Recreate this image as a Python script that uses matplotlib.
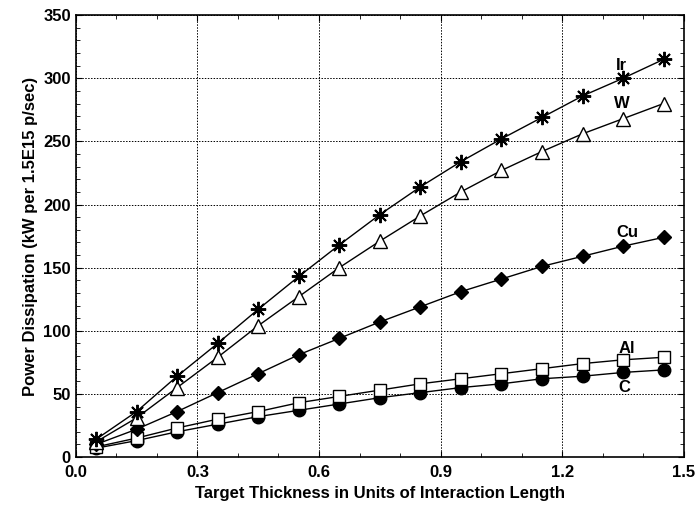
import matplotlib
matplotlib.use("Agg")
import matplotlib.pyplot as plt
from matplotlib.ticker import MultipleLocator

plt.rcParams['font.family'] = ['Liberation Sans', 'DejaVu Sans']
plt.rcParams['font.weight'] = 'bold'
plt.rcParams['axes.labelweight'] = 'bold'

thickness = [0.05, 0.15, 0.25, 0.35, 0.45, 0.55, 0.65, 0.75,
             0.85, 0.95, 1.05, 1.15, 1.25, 1.35, 1.45]

power_ir = [14, 36, 64, 90, 117, 143, 168, 192, 214, 234, 252, 269, 286, 300, 315]
power_w = [12, 31, 55, 79, 104, 127, 150, 171, 191, 210, 227, 242, 256, 268, 280]
power_cu = [10, 22, 36, 51, 66, 81, 94, 107, 119, 131, 141, 151, 159, 167, 174]
power_al = [8, 15, 23, 30, 36, 43, 48, 53, 58, 62, 66, 70, 74, 77, 79]
power_c = [7, 13, 20, 26, 32, 37, 42, 47, 51, 55, 58, 62, 64, 67, 69]

fig = plt.figure(figsize=(6.95, 5.05), dpi=100)
ax = fig.add_axes([0.109, 0.095, 0.875, 0.875])

line_kw = dict(color='black', lw=1.0)
ax.plot(thickness, power_c, marker='o', ms=9, mfc='black', mec='black', **line_kw)
ax.plot(thickness, power_al, marker='s', ms=8, mfc='white', mec='black', mew=1.0, **line_kw)
ax.plot(thickness, power_cu, marker='D', ms=7.5, mfc='black', mec='black', **line_kw)
ax.plot(thickness, power_w, marker='^', ms=10, mfc='white', mec='black', mew=1.0, **line_kw)
ax.plot(thickness, power_ir, marker=(8, 2, 0), ms=11, mec='black', mew=1.4, **line_kw)

# curve labels near the right end
ax.text(1.347, 310, 'Ir', fontsize=12, ha='center', va='center')
ax.text(1.347, 280, 'W', fontsize=12, ha='center', va='center')
ax.text(1.36, 178, 'Cu', fontsize=12, ha='center', va='center')
ax.text(1.36, 86, 'Al', fontsize=12, ha='center', va='center')
ax.text(1.353, 55, 'C', fontsize=12, ha='center', va='center')

ax.set_xlim(0, 1.5)
ax.set_ylim(0, 350)
ax.xaxis.set_major_locator(MultipleLocator(0.3))
ax.xaxis.set_minor_locator(MultipleLocator(0.1))
ax.yaxis.set_major_locator(MultipleLocator(50))
ax.yaxis.set_minor_locator(MultipleLocator(10))
ax.xaxis.set_major_formatter(lambda v, p: f"{v:.1f}")

ax.tick_params(which='both', direction='in', top=True, right=True, labelsize=12)
ax.tick_params(which='major', length=4)
ax.tick_params(which='minor', length=3)
ax.tick_params(axis='x', pad=6)
ax.grid(True, which='major', color='black', linestyle=(0, (1.5, 1.5)), lw=0.7)
for s in ax.spines.values():
    s.set_linewidth(1.2)

ax.set_xlabel('Target Thickness in Units of Interaction Length', fontsize=12)
ax.set_ylabel('Power Dissipation (kW per 1.5E15 p/sec)', fontsize=12)

fig.savefig('out.png', dpi=100)
